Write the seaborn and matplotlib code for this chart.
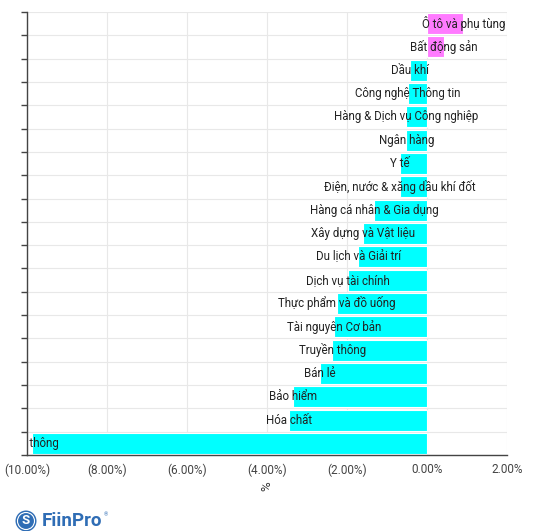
import matplotlib
matplotlib.use("Agg")
import matplotlib.pyplot as plt
from matplotlib.patches import Circle
from matplotlib.ticker import FuncFormatter
import numpy as np
import seaborn as sns

sns.set_style("white")
plt.rcParams["font.family"] = ["Roboto", "DejaVu Sans"]

# sector returns (%)
sectors = [
    "Ô tô và phụ tùng", "Bất động sản", "Dầu khí", "Công nghệ Thông tin",
    "Hàng & Dịch vụ Công nghiệp", "Ngân hàng", "Y tế",
    "Điện, nước & xăng dầu khí đốt", "Hàng cá nhân & Gia dụng",
    "Xây dựng và Vật liệu", "Du lịch và Giải trí", "Dịch vụ tài chính",
    "Thực phẩm và đồ uống", "Tài nguyên Cơ bản", "Truyền thông", "Bán lẻ",
    "Bảo hiểm", "Hóa chất", "Viễn thông",
]
returns = [
    0.91, 0.43, -0.43, -0.47, -0.53, -0.52, -0.68, -0.68, -1.32, -1.60,
    -1.72, -1.97, -2.26, -2.32, -2.37, -2.68, -3.34, -3.44, -9.88,
]

POS_COLOR = "#ff7bff"
NEG_COLOR = "#00ffff"
colors = [POS_COLOR if v >= 0 else NEG_COLOR for v in returns]

fig = plt.figure(figsize=(5.44, 5.31), dpi=100)
ax = fig.add_axes([27 / 544, 1 - 455 / 531, 480 / 544, 443 / 531])

sns.barplot(x=returns, y=sectors, hue=sectors, palette=colors, legend=False,
            orient="h", width=0.9, edgecolor="white", linewidth=0.8,
            saturation=1, ax=ax, zorder=2)

n = len(sectors)
for i, (name, v) in enumerate(zip(sectors, returns)):
    ax.text(v, i, name, ha="center", va="center", fontsize=8.3,
            color="#222222", clip_on=True, zorder=3)

ax.set_xlim(-10, 2)
ax.set_ylim(n - 0.5, -0.5)
ax.set_xticks(np.arange(-10, 2.1, 2))
ax.xaxis.set_major_formatter(FuncFormatter(
    lambda v, p: f"({abs(v):.2f}%)" if v < -1e-9 else f"{abs(v):.2f}%"))
ax.set_yticks(np.arange(-0.5, n, 1))
ax.set_yticklabels([])
ax.set_ylabel("")
ax.set_xlabel("%", fontsize=9.5, color="#333333", rotation=90, labelpad=3)

ax.grid(True, color="#e8e8e8", linewidth=0.8, zorder=0)
ax.set_axisbelow(True)
for side in ["top", "right"]:
    ax.spines[side].set_visible(False)
for side in ["left", "bottom"]:
    ax.spines[side].set_color("#444444")
    ax.spines[side].set_linewidth(1.0)
ax.tick_params(axis="x", length=0, labelsize=8.5, labelcolor="#444444", pad=6)
ax.tick_params(axis="y", length=4, width=1, color="#444444", left=True)

# FiinPro logo
fig.patches.append(Circle((0.26, 0.10), 0.105, transform=fig.dpi_scale_trans,
                          facecolor="#2f6db5", edgecolor="none"))
fig.patches.append(Circle((0.26, 0.10), 0.085, transform=fig.dpi_scale_trans,
                          facecolor="none", edgecolor="white", linewidth=0.8))
fig.text(0.26 / 5.44, 0.10 / 5.31, "S", ha="center", va="center",
         color="white", fontsize=9.5, fontweight="bold")
fig.text(42 / 544, 10 / 531, "FiinPro", ha="left", va="center",
         color="#2f6db5", fontsize=13.5, fontweight="bold")
fig.text(104 / 544, 16 / 531, "®", ha="left", va="center",
         color="#2f6db5", fontsize=4)

fig.savefig("out.png", dpi=100)
